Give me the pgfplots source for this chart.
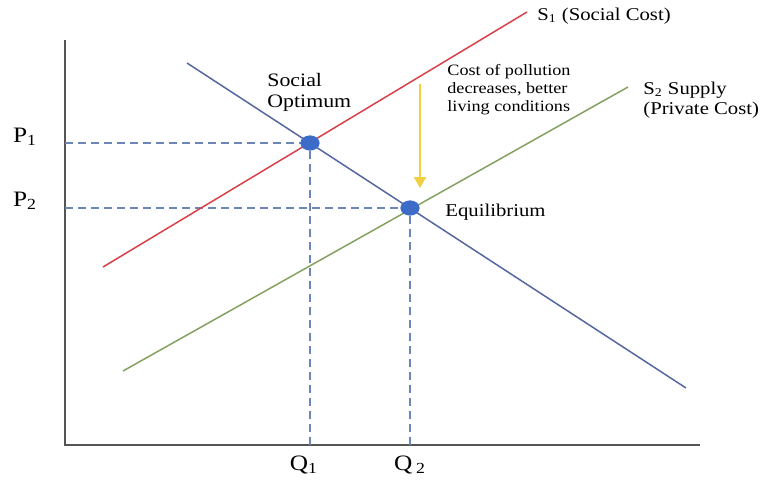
\documentclass[border=0pt]{standalone}
\usepackage{pgfplots}
\pgfplotsset{compat=1.18}
\usepackage{fontspec}
\setmainfont[FakeStretch=1.15]{Liberation Serif}
\usetikzlibrary{arrows.meta}
\definecolor{demand}{HTML}{5566A0}
\definecolor{sred}{HTML}{D8404A}
\definecolor{sgreen}{HTML}{86A062}
\definecolor{dashcol}{HTML}{6C86B8}
\definecolor{dotcol}{HTML}{3D6CC8}
\definecolor{arrcol}{HTML}{F0CF40}
\definecolor{axisgray}{HTML}{555555}
\begin{document}
\begin{tikzpicture}
\begin{axis}[
  scale only axis, width=385.5pt, height=240pt,
  xmin=0, xmax=771, ymin=0, ymax=480,
  hide axis, clip=false,
]
\path (rel axis cs:0,0) rectangle (rel axis cs:1,1);
% axes
\addplot[axisgray, line width=1.2pt] coordinates {(65,440) (65,35) (700,35)};
% dashed guides
\addplot[dashcol, line width=0.7pt, dash pattern=on 4pt off 2.5pt] coordinates {(65,337) (310,337)};
\addplot[dashcol, line width=0.7pt, dash pattern=on 4pt off 2.5pt] coordinates {(65,272) (410,272)};
\addplot[dashcol, line width=0.7pt, dash pattern=on 4pt off 2.5pt] coordinates {(310,35) (310,337)};
\addplot[dashcol, line width=0.7pt, dash pattern=on 4pt off 2.5pt] coordinates {(410,35) (410,272)};
% curves
\addplot[sred, line width=0.75pt] coordinates {(103,213) (527,468)};
\addplot[sgreen, line width=0.75pt] coordinates {(123,109) (628,393)};
\addplot[demand, line width=0.75pt] coordinates {(187,417) (686,92)};
% arrow
\addplot[arrcol, line width=1.1pt, -{Triangle[length=5.5pt,width=6pt]}] coordinates {(420,396) (420,292)};
% points
\addplot[only marks, mark=*, mark size=4pt, dotcol, mark options={draw=dotcol, fill=dotcol, xscale=1.15, yscale=0.9}] coordinates {(310,337) (410,272)};
% labels
\node[font=\fontsize{11}{13}\selectfont] at (axis cs:25,343) {P\textsubscript{1}};
\node[font=\fontsize{11}{13}\selectfont] at (axis cs:25,279) {P\textsubscript{2}};
\node[font=\fontsize{11}{13}\selectfont] at (axis cs:304,15) {Q\textsubscript{1}};
\node[font=\fontsize{11}{13}\selectfont] at (axis cs:410,15) {Q\,\textsubscript{2}};
\node[anchor=west, font=\fontsize{9}{10}\selectfont, inner sep=0pt] at (axis cs:537,464) {S\textsubscript{1} (Social Cost)};
\node[anchor=west, align=left, font=\fontsize{9}{10}\selectfont, inner sep=0pt] at (axis cs:643,380) {S\textsubscript{2} Supply\\(Private Cost)};
\node[anchor=west, align=left, font=\fontsize{7.9}{9}\selectfont, inner sep=0pt] at (axis cs:447,390) {Cost of pollution\\decreases, better\\living conditions};
\node[anchor=west, align=left, font=\fontsize{9.5}{10.5}\selectfont, inner sep=0pt] at (axis cs:267,388) {Social\\Optimum};
\node[anchor=west, font=\fontsize{9}{10}\selectfont, inner sep=0pt] at (axis cs:445,268) {Equilibrium};
\end{axis}
\end{tikzpicture}
\end{document}
